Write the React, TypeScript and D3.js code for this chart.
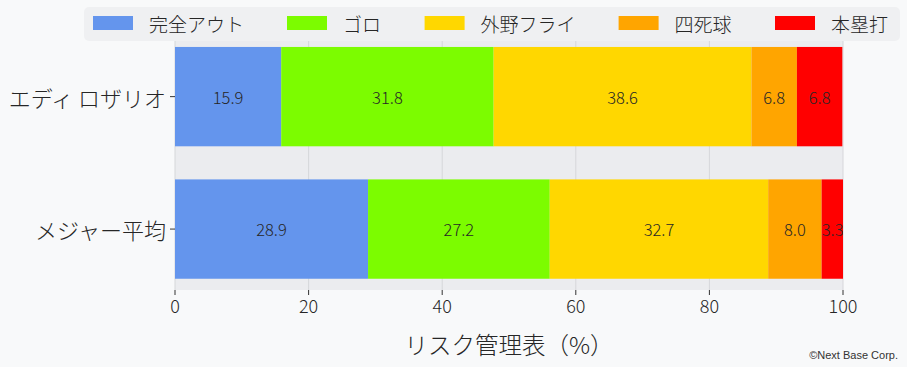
import React from "react";
import * as d3 from "d3";

const W = 907;
const H = 367;

const players = ["エディ ロザリオ", "メジャー平均"];
const outcomes = ["完全アウト", "ゴロ", "外野フライ", "四死球", "本塁打"];
const colors = ["#6495ED", "#7CFC00", "#FFD700", "#FFA500", "#FF0000"];
const rosarioValues = [15.9, 31.8, 38.6, 6.8, 6.8];
const majorValues = [28.9, 27.2, 32.7, 8.0, 3.3];
const xTicks = [0, 20, 40, 60, 80, 100];
const xTitle = "リスク管理表（%）";
const credit = "©Next Base Corp.";

const FONT = "'Noto Sans CJK JP', 'Noto Sans', sans-serif";

export default function App() {
  const left = 175, right = 843, top = 41, bottom = 290;
  const x = d3.scaleLinear().domain([0, 100]).range([left, right]);
  const y = d3.scaleLinear().domain([1.42, -0.46]).range([top, bottom]);
  const barH = 0.75;
  const rows = [rosarioValues, majorValues];

  const stacks = rows.map((vals) => {
    let acc = 0;
    return vals.map((v, i) => {
      const s = acc;
      acc += v;
      return { start: s, end: acc, v, i };
    });
  });

  const legendFont = 19;
  const legendItems: { x: number; label: string; color: string }[] = [];
  let lx = 93;
  outcomes.forEach((o, i) => {
    legendItems.push({ x: lx, label: o, color: colors[i] });
    lx += 40 + 16 + o.length * 18.8 + 44;
  });

  return (
    <div style={{ position: "absolute", left: 0, top: 0 }}>
      <svg width={W} height={H} style={{ display: "block", background: "#f8f9fa" }} fontFamily={FONT} fontWeight={300}>
        <defs>
          <clipPath id="plotclip">
            <rect x={left} y={top} width={right - left} height={bottom - top} />
          </clipPath>
        </defs>
        <rect x={left} y={top} width={right - left} height={bottom - top} fill="#ebecef" />
        {xTicks.map((t) => (
          <line key={"g" + t} x1={x(t)} x2={x(t)} y1={top} y2={bottom} stroke="#d6d7da" strokeWidth={1} />
        ))}
        <g clipPath="url(#plotclip)">
          {stacks.map((segs, r) => {
            const yc = y(1 - r);
            const y0 = y(1 - r + barH / 2);
            const y1 = y(1 - r - barH / 2);
            return (
              <g key={"r" + r}>
                {segs.map((s) => (
                  <rect key={s.i} x={x(s.start)} y={y0} width={x(s.end) - x(s.start)} height={y1 - y0} fill={colors[s.i]} />
                ))}
                {segs.map((s) => (
                  <text key={"t" + s.i} x={x((s.start + s.end) / 2)} y={yc} textAnchor="middle" dominantBaseline="central" fontSize={16.5} fill="#262626">
                    {s.v.toFixed(1)}
                  </text>
                ))}
              </g>
            );
          })}
        </g>
        {xTicks.map((t) => (
          <g key={"xt" + t}>
            <line x1={x(t)} x2={x(t)} y1={bottom} y2={bottom + 5} stroke="#333" strokeWidth={1} />
            <text x={x(t)} y={305} textAnchor="middle" dominantBaseline="central" fontSize={18} fill="#262626">
              {t}
            </text>
          </g>
        ))}
        <text x={(left + right) / 2} y={344} textAnchor="middle" dominantBaseline="central" fontSize={23.5} fill="#262626">
          {xTitle}
        </text>
        {players.map((p, r) => (
          <g key={"yl" + r}>
            <line x1={left - 5} x2={left} y1={y(1 - r)} y2={y(1 - r)} stroke="#333" strokeWidth={1} />
            <text x={left - 9} y={y(1 - r)} textAnchor="end" dominantBaseline="central" fontSize={22} fill="#262626">
              {p}
            </text>
          </g>
        ))}
        <rect x={84} y={7} width={816} height={34} rx={5} ry={5} fill="#eff0f2" />
        {legendItems.map((it) => (
          <g key={it.label}>
            <rect x={it.x} y={16} width={40} height={14} fill={it.color} />
            <text x={it.x + 56} y={23} dominantBaseline="central" fontSize={legendFont} fill="#262626">
              {it.label}
            </text>
          </g>
        ))}
        <text x={898} y={355} textAnchor="end" dominantBaseline="central" fontSize={11} fill="#333" fontWeight={400} fontFamily="'Liberation Sans', Arial, sans-serif">
          {credit}
        </text>
      </svg>
    </div>
  );
}
